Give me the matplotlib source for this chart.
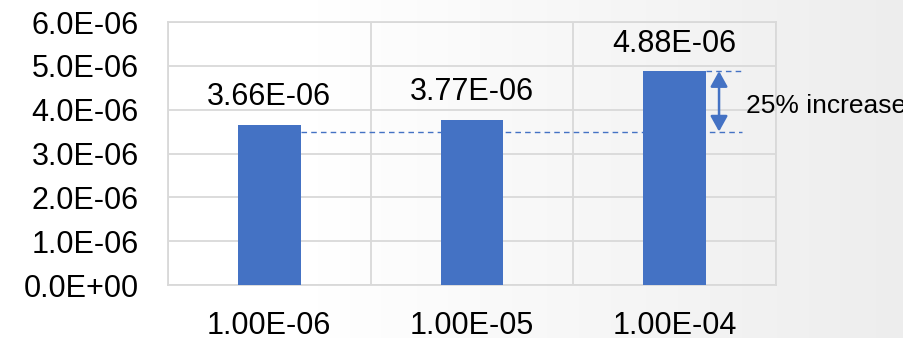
import numpy as np
import matplotlib
matplotlib.use("Agg")
import matplotlib.pyplot as plt

categories = ["1.00E-06", "1.00E-05", "1.00E-04"]
values = [3.66e-06, 3.77e-06, 4.88e-06]
value_labels = ["3.66E-06", "3.77E-06", "4.88E-06"]
y_ticks = [0, 1e-06, 2e-06, 3e-06, 4e-06, 5e-06, 6e-06]
y_tick_labels = ["0.0E+00", "1.0E-06", "2.0E-06", "3.0E-06", "4.0E-06", "5.0E-06", "6.0E-06"]
annotation_text = "25% increase"
ref_low = 3.5e-06   # lower dashed reference line as drawn
ref_high = 4.88e-06 # upper dashed reference line

plt.rcParams['font.family'] = ['Liberation Sans', 'DejaVu Sans']
BLUE = "#4472C4"
GRID = "#d9d9d9"
FS = 22

fig = plt.figure(figsize=(9.04, 3.38), dpi=100)
fig.patch.set_facecolor("white")

# subtle background gradient
bg = fig.add_axes([0, 0, 1, 1], zorder=-10)
grad = np.linspace(0, 1, 256)
grad = np.clip((grad - 0.35) / 0.65, 0, 1)
img = np.ones((2, 256, 3))
for i in range(3):
    img[:, :, i] = 1.0 - 0.07 * grad
bg.imshow(img, aspect='auto', extent=[0, 1, 0, 1])
bg.set_axis_off()

ax = fig.add_axes([0.1858, 0.1568, 0.6726, 0.7781])
ax.patch.set_alpha(0)
x = np.arange(len(categories))
bars = ax.bar(x, values, width=0.31, color=BLUE, zorder=3)
ax.set_xlim(-0.5, 2.5)
ax.set_ylim(0, 6e-06)
ax.set_yticks(y_ticks)
ax.set_yticklabels(y_tick_labels)
ax.set_xticks(x)
ax.set_xticklabels(categories)
ax.set_xticks([-0.5, 0.5, 1.5, 2.5], minor=True)
ax.tick_params(axis='both', which='both', length=0, labelsize=FS, colors='black')
ax.tick_params(axis='x', pad=19)
ax.tick_params(axis='y', pad=21)
ax.grid(axis='y', which='major', color=GRID, lw=1.3, zorder=0)
ax.grid(axis='x', which='minor', color=GRID, lw=1.3, zorder=0)
for s in ax.spines.values():
    s.set_color(GRID)
    s.set_linewidth(1.3)

for xi, v, lab in zip(x, values, value_labels):
    ax.annotate(lab, (xi, v), xytext=(0, 14), textcoords='offset points',
                ha='center', va='baseline', fontsize=FS)

# dashed reference lines
ax.hlines(ref_low, x[0] + 0.155, 2.33, colors=BLUE, linestyles=(0, (4, 3)), lw=1, zorder=2)
ax.hlines(ref_high, x[2] + 0.155, 2.33, colors=BLUE, linestyles=(0, (4, 3)), lw=1, zorder=2)

ax.annotate("", xy=(2.219, ref_high), xytext=(2.219, ref_low),
            arrowprops=dict(arrowstyle='<|-|>,head_length=0.36,head_width=0.2',
                            color=BLUE, lw=1.8, mutation_scale=26,
                            shrinkA=0, shrinkB=0), annotation_clip=False)
ax.text(2.35, 4.08e-06, annotation_text, fontsize=19,
        ha='left', va='center', clip_on=False)

fig.savefig("out.png", dpi=100)
